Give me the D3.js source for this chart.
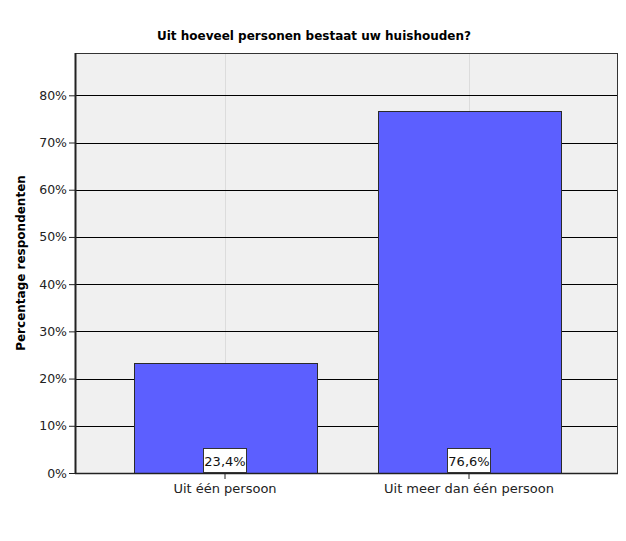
<!DOCTYPE html>
<html><head><meta charset="utf-8">
<script src="https://cdn.jsdelivr.net/npm/d3@7"></script>
<style>body{margin:0;background:#fff}svg{display:block}text{font-family:"DejaVu Sans",Verdana,sans-serif}</style>
</head><body>
<script>
const categories = ["Uit één persoon", "Uit meer dan één persoon"];
const values = [23.4, 76.6];
const valueLabels = ["23,4%", "76,6%"];
const yTicks = [0, 10, 20, 30, 40, 50, 60, 70, 80];
const title = "Uit hoeveel personen bestaat uw huishouden?";
const yTitle = "Percentage respondenten";

(function () {
const W = 626, H = 541;
const pl = 75, pr = 618, pt = 53, pb = 473;
const svg = d3.select("body").append("svg").attr("width", W).attr("height", H);

const y = d3.scaleLinear().domain([0, 80]).range([pb, 95.3]);
const x = d3.scaleBand().domain(categories).range([103, 591]).paddingInner(0.25).paddingOuter(0.125);

svg.append("rect").attr("x", pl).attr("y", pt).attr("width", pr - pl).attr("height", pb - pt)
  .attr("fill", "#f0f0f0");

svg.selectAll(".vg").data(categories).join("line")
  .attr("x1", d => Math.round(x(d) + x.bandwidth() / 2) + 0.5).attr("x2", d => Math.round(x(d) + x.bandwidth() / 2) + 0.5)
  .attr("y1", pt).attr("y2", pb).attr("stroke", "#dcdcdc").attr("stroke-width", 1);

svg.selectAll(".hg").data(yTicks.filter(d => d > 0)).join("line")
  .attr("x1", pl).attr("x2", pr).attr("y1", d => Math.round(y(d)) + 0.5).attr("y2", d => Math.round(y(d)) + 0.5)
  .attr("stroke", "#000").attr("stroke-width", 1);

svg.selectAll(".bar").data(values).join("rect")
  .attr("x", (d, i) => Math.round(x(categories[i])) + 0.5)
  .attr("y", d => Math.round(y(d)) + 0.5)
  .attr("width", Math.round(x.bandwidth()))
  .attr("height", d => pb - Math.round(y(d)))
  .attr("fill", "#5c5fff").attr("stroke", "#2a2a2a").attr("stroke-width", 1);

svg.append("rect").attr("x", pl + 0.5).attr("y", pt + 0.5).attr("width", pr - pl - 1).attr("height", pb - pt)
  .attr("fill", "none").attr("stroke", "#333").attr("stroke-width", 1);
svg.append("line").attr("x1", pl + 0.5).attr("x2", pl + 0.5).attr("y1", pt).attr("y2", pb + 1)
  .attr("stroke", "#222").attr("stroke-width", 2);
svg.append("line").attr("x1", pl).attr("x2", pr).attr("y1", pb + 0.5).attr("y2", pb + 0.5)
  .attr("stroke", "#222").attr("stroke-width", 1.5);

const yAxis = svg.append("g").attr("transform", `translate(${pl},0)`)
  .call(d3.axisLeft(y).tickValues(yTicks).tickFormat(d => d + "%").tickSize(6).tickPadding(2));
yAxis.select(".domain").remove();
yAxis.selectAll(".tick line").attr("stroke", "#222");
yAxis.selectAll(".tick text").attr("font-size", 12.5).attr("fill", "#222");

const xAxis = svg.append("g").attr("transform", `translate(0,${pb})`)
  .call(d3.axisBottom(x).tickSize(6).tickPadding(5));
xAxis.select(".domain").remove();
xAxis.selectAll(".tick line").attr("stroke", "#222");
xAxis.selectAll(".tick text").attr("font-size", 13).attr("fill", "#222");

const lab = svg.selectAll(".lab").data(values).join("g")
  .attr("transform", (d, i) => `translate(${Math.round(x(categories[i]) + x.bandwidth() / 2)},${pb})`);
lab.append("rect").attr("x", -21.5).attr("y", -24.5).attr("width", 43).attr("height", 24)
  .attr("fill", "#fff").attr("stroke", "#333");
lab.append("text").attr("y", -7).attr("text-anchor", "middle").attr("font-size", 13).attr("fill", "#111")
  .text((d, i) => valueLabels[i]);

svg.append("text").attr("x", 314).attr("y", 40).attr("text-anchor", "middle")
  .attr("font-size", 12).attr("font-weight", "bold").attr("fill", "#000").text(title);
svg.append("text").attr("transform", `translate(25,263) rotate(-90)`).attr("text-anchor", "middle")
  .attr("font-size", 12).attr("font-weight", "bold").attr("fill", "#000").text(yTitle);
})();
</script>
</body></html>
